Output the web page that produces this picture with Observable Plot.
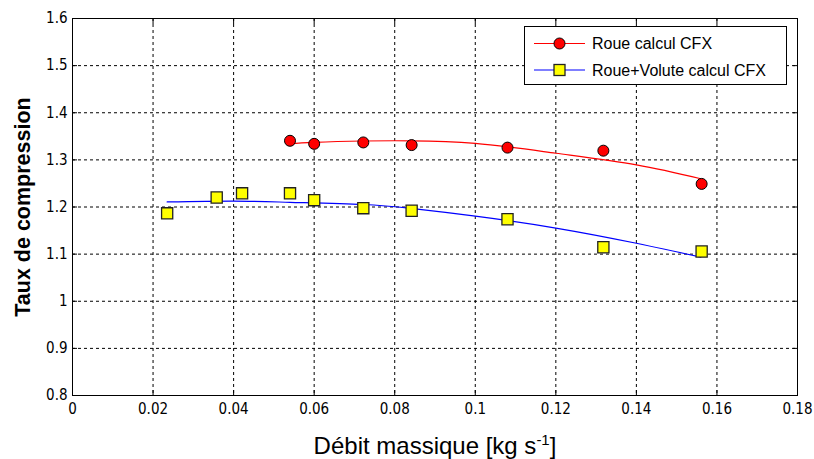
<!DOCTYPE html>
<html>
<head>
<meta charset="utf-8">
<script src="https://cdn.jsdelivr.net/npm/d3@7"></script>
<script src="https://cdn.jsdelivr.net/npm/@observablehq/plot@0.6"></script>
<style>
  html, body { margin: 0; padding: 0; background: #fff; }
  #chart svg { display: block; }
  g[aria-label="x-axis tick label"] text, g[aria-label="y-axis tick label"] text {
    font-family: "Liberation Sans Narrow", "DejaVu Sans Condensed", Arial, sans-serif;
    font-size: 15px;
  }
  g[aria-label="y-axis label"] text {
    font-family: "Liberation Sans", Arial, sans-serif;
    font-weight: bold; font-size: 21.5px;
  }
  g[aria-label="x-axis label"] text {
    font-family: "Liberation Sans", Arial, sans-serif;
    font-size: 24px;
  }
</style>
</head>
<body>
<div id="chart"></div>
<script>
// Measured points: "Roue calcul CFX"
const roueX = [0.054, 0.060, 0.0722, 0.0842, 0.108, 0.1318, 0.1562];
const roueY = [1.3405, 1.334, 1.337, 1.3314, 1.326, 1.3195, 1.249];
// Fitted curve for Roue
const roueFitX = [0.054, 0.060, 0.072, 0.084, 0.100, 0.120, 0.140, 0.156];
const roueFitY = [1.334, 1.337, 1.340, 1.3405, 1.335, 1.314, 1.2895, 1.260];

// Measured points: "Roue+Volute calcul CFX"
const voluteX = [0.0235, 0.0358, 0.0421, 0.054, 0.060, 0.0722, 0.0842, 0.108, 0.1318, 0.1562];
const voluteY = [1.1866, 1.2201, 1.229, 1.229, 1.2145, 1.1975, 1.192, 1.174, 1.1146, 1.1055];
// Fitted curve for Roue+Volute
const voluteFitX = [0.0235, 0.040, 0.054, 0.072, 0.084, 0.100, 0.120, 0.140, 0.156];
const voluteFitY = [1.2107, 1.2125, 1.210, 1.2053, 1.197, 1.1805, 1.1553, 1.123, 1.0936];

const xTicks = [0, 0.02, 0.04, 0.06, 0.08, 0.1, 0.12, 0.14, 0.16, 0.18];
const yTicks = [0.8, 0.9, 1, 1.1, 1.2, 1.3, 1.4, 1.5, 1.6];
const seriesNames = ["Roue calcul CFX", "Roue+Volute calcul CFX"];

const zip = (xs, ys) => xs.map((x, i) => ({x, y: ys[i]}));
const roue = zip(roueX, roueY), roueFit = zip(roueFitX, roueFitY);
const volute = zip(voluteX, voluteY), voluteFit = zip(voluteFitX, voluteFitY);

const fmt = d => String(d);

const plot = Plot.plot({
  width: 814, height: 459,
  marginLeft: 72, marginRight: 17, marginTop: 18, marginBottom: 64,
  x: {domain: [0, 0.18]},
  y: {domain: [0.8, 1.6]},
  style: {background: "#fff", color: "#000"},
  marks: [
    Plot.gridX(xTicks.slice(1, -1), {stroke: "#000", strokeOpacity: 1, strokeDasharray: "3,3"}),
    Plot.gridY(yTicks.slice(1, -1), {stroke: "#000", strokeOpacity: 1, strokeDasharray: "3,3"}),
    Plot.axisX(xTicks, {anchor: "bottom", tickSize: -5, tickPadding: 13, tickFormat: fmt,
      label: "Débit massique [kg s-1]", labelAnchor: "center", labelOffset: 58, labelArrow: "none"}),
    Plot.axisX(xTicks, {anchor: "top", tickSize: -5, tickFormat: () => "", label: null}),
    Plot.axisY(yTicks, {anchor: "left", tickSize: -5, tickPadding: 10, tickFormat: fmt,
      label: "Taux de compression", labelAnchor: "center", labelOffset: 58, labelArrow: "none"}),
    Plot.axisY(yTicks, {anchor: "right", tickSize: -5, tickFormat: () => "", label: null}),
    Plot.frame({stroke: "#000"}),
    Plot.line(roueFit, {x: "x", y: "y", stroke: "#ff0000", strokeWidth: 1.2, curve: "natural"}),
    Plot.line(voluteFit, {x: "x", y: "y", stroke: "#0000ff", strokeWidth: 1.2, curve: "natural"}),
    Plot.dot(roue, {x: "x", y: "y", r: 5.5, fill: "#ff0000", stroke: "#000", strokeWidth: 1}),
    Plot.dot(volute, {x: "x", y: "y", symbol: "square", r: 6.3, fill: "#ffff00", stroke: "#222", strokeWidth: 1.3})
  ]
});
document.getElementById("chart").appendChild(plot);

const svg = d3.select(plot);

// x label with real superscript
const xl = svg.select('g[aria-label="x-axis label"] text');
if (!xl.empty()) {
  xl.text(null);
  xl.append("tspan").text("Débit massique [kg s");
  xl.append("tspan").attr("font-size", 15).attr("dy", "-0.55em").text("-1");
  xl.append("tspan").attr("dy", "0.35em").text("]");
}

// Legend box (inside the plot, top-right)
const lg = svg.append("g").attr("aria-label", "legend");
lg.append("rect").attr("x", 524.5).attr("y", 26.5).attr("width", 262).attr("height", 58)
  .attr("fill", "#fff").attr("stroke", "#000").attr("stroke-width", 1);
const rows = [
  {name: seriesNames[0], color: "#ff0000", y: 43.5, sym: "circle"},
  {name: seriesNames[1], color: "#0000ff", y: 70, sym: "square"}
];
rows.forEach(r => {
  lg.append("line").attr("x1", 534).attr("x2", 585).attr("y1", r.y).attr("y2", r.y)
    .attr("stroke", r.color).attr("stroke-width", 1.2);
  if (r.sym === "circle") {
    lg.append("circle").attr("cx", 559.5).attr("cy", r.y).attr("r", 5.5)
      .attr("fill", "#ff0000").attr("stroke", "#000");
  } else {
    lg.append("rect").attr("x", 554).attr("y", r.y - 5.5).attr("width", 11).attr("height", 11)
      .attr("fill", "#ffff00").attr("stroke", "#222").attr("stroke-width", 1.3);
  }
  lg.append("text").attr("x", 592).attr("y", r.y).attr("dy", "0.35em")
    .attr("text-anchor", "start")
    .attr("font-family", "Liberation Sans, Arial, sans-serif").attr("font-size", 16)
    .attr("fill", "#000").text(r.name);
});
</script>
</body>
</html>
